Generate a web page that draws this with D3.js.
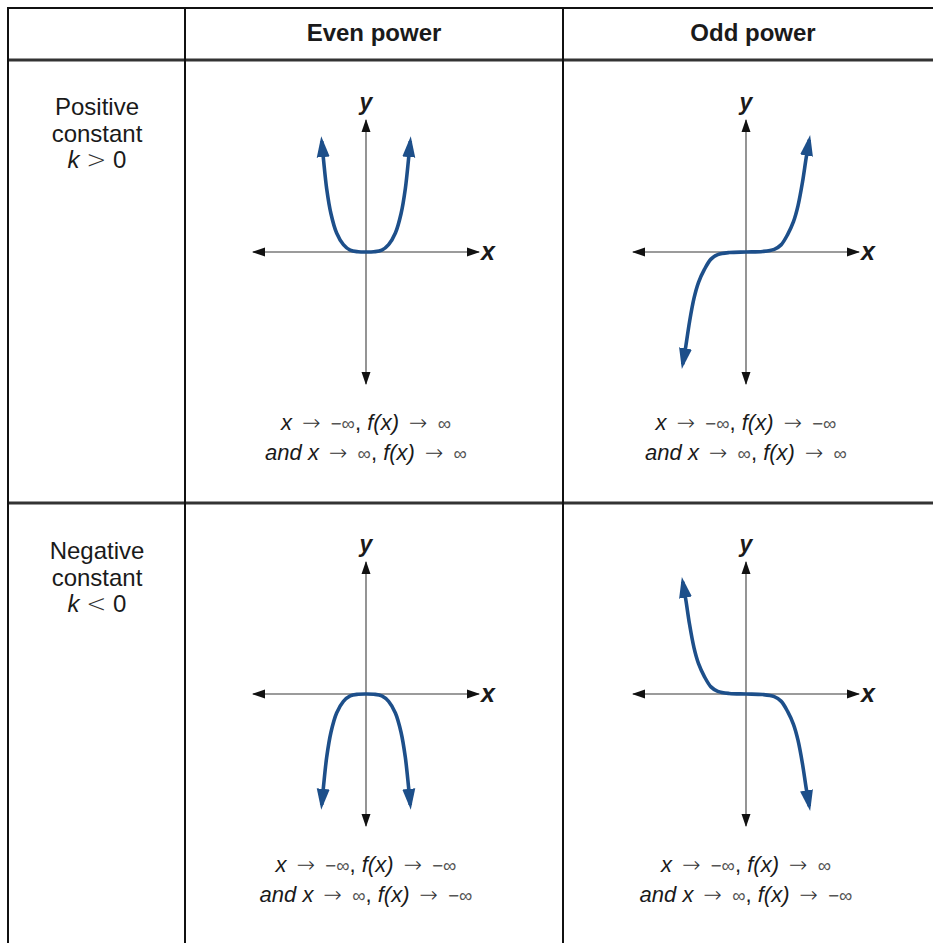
<!DOCTYPE html>
<html>
<head>
<meta charset="utf-8">
<script src="https://d3js.org/d3.v7.min.js"></script>
<style>
  body { margin: 0; background: #fff; }
  svg text { font-family: "Liberation Sans", Arial, sans-serif; fill: #1a1a1a; }
</style>
</head>
<body>
<div id="vis"></div>
<script>
// table labels
var columns = ["Even power", "Odd power"]
var rowLabels = [["Positive", "constant", "k > 0"], ["Negative", "constant", "k < 0"]]

// curve points (axis units, both axes run -5..5)
var evenX    = [-1.96, -1.88, -1.74, -1.55, -1.30, -1.0, -0.7, -0.35, 0, 0.35, 0.7, 1.0, 1.30, 1.55, 1.74, 1.88, 1.96]
var evenPosY = [4.20, 3.50, 2.40, 1.45, 0.72, 0.28, 0.07, 0.01, 0, 0.01, 0.07, 0.28, 0.72, 1.45, 2.40, 3.50, 4.20]
var evenNegY = [-4.20, -3.50, -2.40, -1.45, -0.72, -0.28, -0.07, -0.01, 0, -0.01, -0.07, -0.28, -0.72, -1.45, -2.40, -3.50, -4.20]
var oddX     = [-2.80, -2.66, -2.50, -2.30, -2.10, -1.84, -1.55, -1.25, -0.74, 0, 0.74, 1.25, 1.55, 1.84, 2.10, 2.30, 2.50, 2.66, 2.80]
var oddPosY  = [-4.25, -3.55, -2.65, -1.75, -1.15, -0.66, -0.27, -0.10, -0.02, 0, 0.02, 0.10, 0.27, 0.66, 1.15, 1.75, 2.65, 3.55, 4.25]
var oddNegY  = [4.25, 3.55, 2.65, 1.75, 1.15, 0.66, 0.27, 0.10, 0.02, 0, -0.02, -0.10, -0.27, -0.66, -1.15, -1.75, -2.65, -3.55, -4.25]

// end behaviour captions
var captions = [
  ["x → −∞, f(x) → ∞", "and x → ∞, f(x) → ∞"],
  ["x → −∞, f(x) → −∞", "and x → ∞, f(x) → ∞"],
  ["x → −∞, f(x) → −∞", "and x → ∞, f(x) → −∞"],
  ["x → −∞, f(x) → ∞", "and x → ∞, f(x) → −∞"]
]

var W = 933, H = 943
var blue = "#1d4f8a"

var svg = d3.select("#vis").append("svg")
  .attr("width", W)
  .attr("height", H)

var defs = svg.append("defs")
defs.append("marker")
  .attr("id", "axisArrow")
  .attr("viewBox", "0 -5 13 10")
  .attr("markerWidth", 13).attr("markerHeight", 10)
  .attr("refX", 12).attr("refY", 0)
  .attr("markerUnits", "userSpaceOnUse")
  .attr("orient", "auto-start-reverse")
  .append("path").attr("d", "M0,-4.5L13,0L0,4.5Z").attr("fill", "#111")
defs.append("marker")
  .attr("id", "curveArrow")
  .attr("viewBox", "0 -7 21 14")
  .attr("markerWidth", 21).attr("markerHeight", 14)
  .attr("refX", 16).attr("refY", 0)
  .attr("markerUnits", "userSpaceOnUse")
  .attr("orient", "auto-start-reverse")
  .append("path").attr("d", "M0,-6.5L21,0L0,6.5Z").attr("fill", blue)

// grid of the table
var colEdges = [8, 185, 563, 943]

svg.append("line").attr("x1", 8).attr("x2", W).attr("y1", 8).attr("y2", 8)
  .attr("stroke", "#111").attr("stroke-width", 2)
;[60, 503].forEach(function(y) {
  svg.append("line").attr("x1", 8).attr("x2", W).attr("y1", y).attr("y2", y)
    .attr("stroke", "#333").attr("stroke-width", 3)
})
colEdges.slice(0, 3).forEach(function(x) {
  svg.append("line").attr("x1", x).attr("x2", x).attr("y1", 7).attr("y2", H)
    .attr("stroke", "#111").attr("stroke-width", 2)
})

// header
columns.forEach(function(c, i) {
  svg.append("text")
    .attr("x", (colEdges[i + 1] + colEdges[i + 2]) / 2)
    .attr("y", 41)
    .attr("text-anchor", "middle")
    .attr("font-size", 24)
    .attr("font-weight", "bold")
    .text(c)
})

// helper: italic variables, long arrows, small light infinity
var tokenRe = /(f\(x\)|and|x|k|→|−∞|∞|>|<)/
function richText(sel, str) {
  var afterArrow = false
  str.split(tokenRe).forEach(function(part) {
    if (part === "") return
    var t = sel.append("tspan").text(part)
    if (afterArrow) { t.attr("dx", 4); afterArrow = false }
    if (part === "→") {
      t.attr("dx", 4).attr("font-family", "DejaVu Sans").attr("font-weight", 200).style("fill", "#333")
      afterArrow = true
    } else if (part === "∞" || part === "−∞") {
      t.attr("font-size", "0.85em").style("fill", "#555")
    } else if (part === ">" || part === "<") {
      t.attr("font-family", "DejaVu Sans").attr("font-weight", 200).style("fill", "#333")
    } else if (part.match(tokenRe) && part.match(tokenRe)[0] === part) {
      t.attr("font-style", "italic")
    }
  })
}

// row labels
var labelTops = [107, 551]
rowLabels.forEach(function(lines, r) {
  lines.forEach(function(l, j) {
    var t = svg.append("text")
      .attr("x", 97)
      .attr("y", labelTops[r] + 8 + j * 26.5)
      .attr("text-anchor", "middle")
      .attr("font-size", 24)
    richText(t, l)
  })
})

// panels
var panelCx = [366, 746]
var panelCy = [252, 694]
var panels = [
  {r: 0, c: 0, xs: evenX, ys: evenPosY},
  {r: 0, c: 1, xs: oddX, ys: oddPosY},
  {r: 1, c: 0, xs: evenX, ys: evenNegY},
  {r: 1, c: 1, xs: oddX, ys: oddNegY}
]

panels.forEach(function(p, i) {
  var cx = panelCx[p.c], cy = panelCy[p.r]
  var x = d3.scaleLinear().domain([-5, 5]).range([cx - 113, cx + 113])
  var y = d3.scaleLinear().domain([-5, 5]).range([cy + 132, cy - 132])
  var g = svg.append("g")

  // axes
  g.append("line")
    .attr("x1", x(-5)).attr("x2", x(5)).attr("y1", y(0)).attr("y2", y(0))
    .attr("stroke", "#7a7a7a").attr("stroke-width", 1.6)
    .attr("marker-start", "url(#axisArrow)").attr("marker-end", "url(#axisArrow)")
  g.append("line")
    .attr("x1", x(0)).attr("x2", x(0)).attr("y1", y(-5)).attr("y2", y(5))
    .attr("stroke", "#7a7a7a").attr("stroke-width", 1.6)
    .attr("marker-start", "url(#axisArrow)").attr("marker-end", "url(#axisArrow)")

  g.append("text")
    .attr("x", x(5) + 2).attr("y", y(0) + 8)
    .attr("font-size", 25).attr("font-weight", "bold").attr("font-style", "italic")
    .text("x")
  g.append("text")
    .attr("x", x(0)).attr("y", y(5) - 10)
    .attr("text-anchor", "middle")
    .attr("font-size", 23).attr("font-weight", "bold").attr("font-style", "italic")
    .text("y")

  // curve
  var pts = p.xs.map(function(v, k) { return [v, p.ys[k]] })
  var line = d3.line()
    .x(function(d) { return x(d[0]) })
    .y(function(d) { return y(d[1]) })
    .curve(d3.curveCatmullRom.alpha(0.5))
  g.append("path")
    .datum(pts)
    .attr("d", line)
    .attr("fill", "none")
    .attr("stroke", blue)
    .attr("stroke-width", 3.6)
    .attr("marker-start", "url(#curveArrow)")
    .attr("marker-end", "url(#curveArrow)")

  // caption
  captions[i].forEach(function(l, j) {
    var t = g.append("text")
      .attr("x", cx)
      .attr("y", cy + 178 + j * 30)
      .attr("text-anchor", "middle")
      .attr("font-size", 22)
    richText(t, l)
  })
})
</script>
</body>
</html>
